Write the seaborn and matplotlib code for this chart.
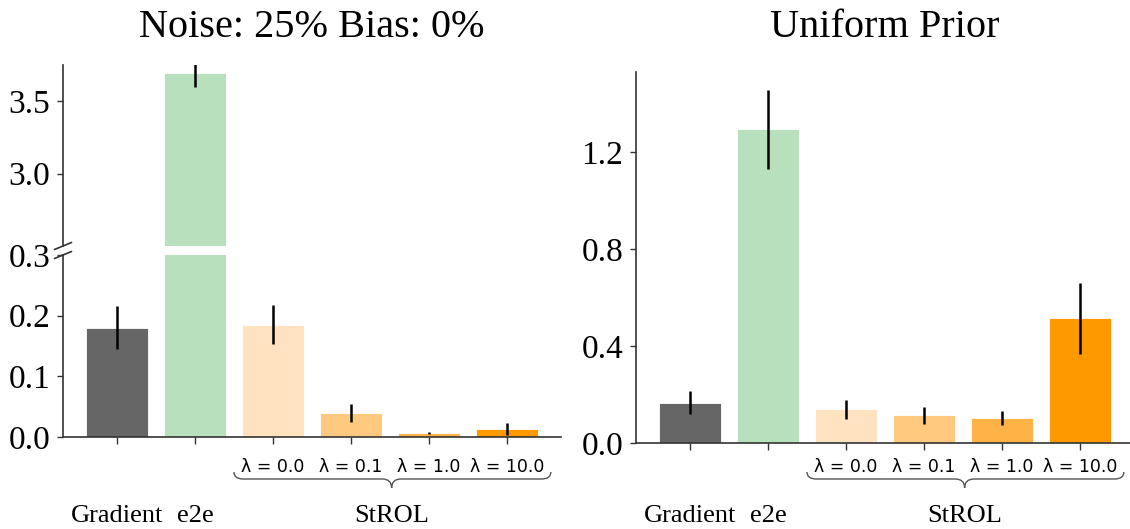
import matplotlib
matplotlib.use("Agg")
import matplotlib.pyplot as plt
import matplotlib.transforms as mtransforms
from matplotlib.path import Path
from matplotlib.patches import PathPatch
import seaborn as sns
import pandas as pd

# ---------------- data ----------------
categories = ["Gradient", "e2e", "λ = 0.0", "λ = 0.1", "λ = 1.0", "λ = 10.0"]
colors = ["#666666", "#b8e0bd", "#ffe3c0", "#ffc980", "#ffb347", "#ff9900"]

left_title = "Noise: 25% Bias: 0%"
left_values = [0.180, 3.694, 0.185, 0.039, 0.006, 0.0127]
left_err_lo = [0.145, 3.597, 0.153, 0.024, 0.0052, 0.0033]
left_err_hi = [0.216, 3.791, 0.218, 0.054, 0.0078, 0.0226]

right_title = "Uniform Prior"
right_values = [0.167, 1.293, 0.139, 0.114, 0.103, 0.514]
right_err_lo = [0.121, 1.132, 0.099, 0.080, 0.073, 0.369]
right_err_hi = [0.213, 1.457, 0.178, 0.150, 0.133, 0.658]

group_labels = ["Gradient", "e2e"]
lambda_labels = ["λ = 0.0", "λ = 0.1", "λ = 1.0", "λ = 10.0"]
strol_label = "StROL"

left_top_ticks = [3.0, 3.5]
left_bottom_ticks = [0.0, 0.1, 0.2, 0.3]
right_ticks = [0.0, 0.4, 0.8, 1.2]

# ---------------- style ----------------
sns.set_style("white")
SERIF = ["Liberation Serif", "DejaVu Serif"]
plt.rcParams["font.family"] = SERIF
plt.rcParams["axes.unicode_minus"] = False
plt.rcParams["text.color"] = "black"
plt.rcParams["axes.labelcolor"] = "black"
plt.rcParams["xtick.labelcolor"] = "black"
plt.rcParams["ytick.labelcolor"] = "black"

W, H = 1130, 529
fig = plt.figure(figsize=(W / 100, H / 100), dpi=100)
fig.patch.set_facecolor("white")

def frac_box(x0, x1, ytop, ybot):
    return [x0 / W, (H - ybot) / H, (x1 - x0) / W, (ybot - ytop) / H]

ax_lt = fig.add_axes(frac_box(63, 561, 65, 246))
ax_lb = fig.add_axes(frac_box(63, 561, 255, 437))
ax_r = fig.add_axes(frac_box(636, 1134, 72, 443))

SPINE = "#333333"
TICKFS = 24

def draw_bars(ax, values, lo, hi):
    df = pd.DataFrame({"cat": categories, "val": values})
    sns.barplot(data=df, x="cat", y="val", hue="cat", palette=colors,
                order=categories, hue_order=categories, legend=False,
                saturation=1, width=0.8, ax=ax, edgecolor="white", linewidth=0.6)
    ax.vlines(x=list(range(len(categories))), ymin=lo, ymax=hi,
              colors="black", linewidth=1.8, zorder=5)
    ax.set_xlim(-0.69, len(categories) - 1 + 0.69)
    ax.set_xlabel("")
    ax.set_ylabel("")
    for s in ["top", "right"]:
        ax.spines[s].set_visible(False)
    for s in ["left", "bottom"]:
        ax.spines[s].set_color(SPINE)
        ax.spines[s].set_linewidth(1.2)
    ax.tick_params(axis="y", length=4, width=1, color=SPINE, pad=5,
                   labelsize=TICKFS, labelcolor="black", direction="out", left=True)
    ax.tick_params(axis="x", length=5, width=1, color=SPINE,
                   labelbottom=False, direction="out", bottom=True)

# left top
draw_bars(ax_lt, left_values, left_err_lo, left_err_hi)
ax_lt.set_ylim(2.5, 3.75)
ax_lt.set_yticks(left_top_ticks)
ax_lt.set_yticklabels([f"{t:.1f}" for t in left_top_ticks])
ax_lt.spines["bottom"].set_visible(False)
ax_lt.tick_params(axis="x", bottom=False)

# left bottom
draw_bars(ax_lb, left_values, left_err_lo, left_err_hi)
ax_lb.set_ylim(0, 0.3)
ax_lb.set_yticks(left_bottom_ticks)
ax_lb.set_yticklabels([f"{t:.1f}" for t in left_bottom_ticks])

# right
draw_bars(ax_r, right_values, right_err_lo, right_err_hi)
ax_r.set_ylim(0, 1.53)
ax_r.set_yticks(right_ticks)
ax_r.set_yticklabels([f"{t:.1f}" for t in right_ticks])

# break marks on the left spine
dx = 8.5 / 498
for ax, hgt, yv in [(ax_lt, 181, 0.0), (ax_lb, 182, 1.0)]:
    dy = 3.5 / hgt
    ax.plot([-dx, dx], [yv - dy, yv + dy], transform=ax.transAxes,
            color=SPINE, lw=1.2, clip_on=False)

# titles
fig.text(312 / W, 1 - 37 / H, left_title, ha="center", va="baseline",
         fontsize=29, family=SERIF, color="black")
fig.text(885 / W, 1 - 37 / H, right_title, ha="center", va="baseline",
         fontsize=29, family=SERIF, color="black")

# group labels, lambda labels, brace
def annotate_groups(ax):
    tr = mtransforms.blended_transform_factory(ax.transData, fig.transFigure)
    for i, lab in enumerate(group_labels):
        ax.text(i, 1 - 522 / H, lab, transform=tr, ha="center", va="baseline",
                fontsize=19, family=SERIF, color="black")
    for j, lab in enumerate(lambda_labels):
        ax.text(j + 2, 1 - 467 / H, lab, transform=tr, ha="center", va="center",
                fontsize=12.5, family=["DejaVu Sans"], color="black")
    ax.text(3.52, 1 - 522 / H, strol_label, transform=tr, ha="center",
            va="baseline", fontsize=19, family=SERIF, color="black")
    x0, x1, xt, c = 1.5, 5.56, 3.52, 0.12
    yE, yL, yT = 1 - 472 / H, 1 - 479 / H, 1 - 488 / H
    verts = [(x0, yE), (x0, yL), (x0 + c, yL), (xt - c, yL), (xt, yL), (xt, yT),
             (xt, yL), (xt + c, yL), (x1 - c, yL), (x1, yL), (x1, yE)]
    codes = [Path.MOVETO, Path.CURVE3, Path.CURVE3, Path.LINETO, Path.CURVE3,
             Path.CURVE3, Path.CURVE3, Path.CURVE3, Path.LINETO, Path.CURVE3,
             Path.CURVE3]
    patch = PathPatch(Path(verts, codes), transform=tr, fill=False,
                      edgecolor="#555555", lw=1.0, clip_on=False)
    ax.add_patch(patch)

annotate_groups(ax_lb)
annotate_groups(ax_r)

fig.savefig("out.png", dpi=100, facecolor="white")
